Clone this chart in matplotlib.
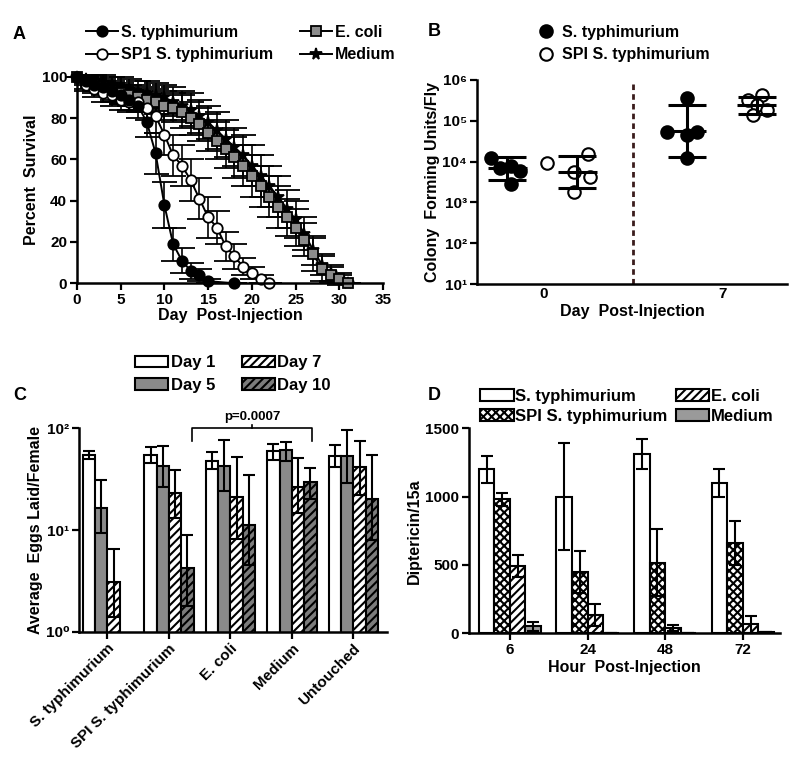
import numpy as np
import matplotlib
matplotlib.use("Agg")
import matplotlib.pyplot as plt
from matplotlib.patches import Patch
from matplotlib.lines import Line2D
from matplotlib.ticker import FixedLocator, NullLocator, FuncFormatter

plt.rcParams["font.family"] = ["Liberation Sans", "DejaVu Sans"]
plt.rcParams["font.weight"] = "bold"
plt.rcParams["axes.labelweight"] = "bold"
plt.rcParams["axes.linewidth"] = 1.8
plt.rcParams["hatch.linewidth"] = 1.5

# ---------------- panel A: survival curves ----------------
st_days = [0, 1, 2, 3, 4, 5, 6, 7, 8, 9, 10, 11, 12, 13, 14, 15, 18]
st_surv = [100, 98, 96, 95, 93, 91, 89, 86, 78, 63, 38, 19, 11, 6, 4, 1, 0]
st_err = [0, 2, 3, 3, 4, 4, 5, 6, 7, 10, 11, 8, 6, 4, 3, 1, 0]

sp_days = [0, 1, 2, 3, 4, 5, 6, 7, 8, 9, 10, 11, 12, 13, 14, 15, 16, 17, 18, 19, 20, 21, 22]
sp_surv = [100, 96, 94, 92, 91, 89, 88, 88, 85, 81, 72, 62, 57, 50, 41, 32, 27, 18, 13, 8, 5, 2, 0]
sp_err = [0, 3, 4, 4, 5, 5, 5, 5, 6, 8, 10, 10, 10, 10, 10, 10, 8, 7, 6, 4, 3, 2, 0]

ec_days = list(range(0, 32))
ec_surv = [100, 97, 96, 95, 93, 92, 91, 90, 89, 88, 86, 85, 83, 80, 77, 73,
           69, 65, 61, 57, 52, 47, 42, 37, 32, 27, 21, 14, 7, 4, 2, 0]
ec_err = [0, 3, 4, 4, 5, 5, 5, 6, 6, 6, 7, 7, 8, 8, 8, 9,
          9, 9, 10, 10, 10, 10, 10, 10, 9, 9, 8, 8, 6, 4, 3, 0]
md_days = list(range(0, 32))
md_surv = [100, 99, 98, 97, 96, 95, 94, 93, 92, 91, 90, 88, 86, 84, 81, 78,
           74, 70, 66, 62, 57, 52, 47, 42, 36, 31, 24, 16, 9, 5, 2, 0]
md_err = [0, 2, 3, 4, 4, 5, 5, 5, 6, 6, 6, 7, 7, 8, 8, 8,
          9, 9, 9, 10, 10, 10, 10, 10, 9, 9, 8, 7, 5, 4, 2, 0]

# ---------------- panel B: CFU per fly ----------------
b_days = ["0", "7"]
b_st0 = [1.2e4, 7e3, 8e3, 6e3, 2.8e3]
b_st0_jit = [-0.09, -0.04, 0.02, 0.07, 0.02]
b_sp0 = [9e3, 1.5e4, 5.6e3, 4.3e3, 1.8e3]
b_sp0_jit = [-0.17, 0.06, -0.02, 0.07, -0.02]
b_st7 = [3.7e5, 5.3e4, 4.5e4, 5.2e4, 1.2e4]
b_st7_jit = [0.0, -0.11, 0.0, 0.06, 0.0]
b_sp7 = [4.2e5, 3.2e5, 2.5e5, 1.8e5, 1.4e5]
b_sp7_jit = [0.03, -0.05, 0.0, 0.06, -0.02]
# mean, lower, upper
b_st_mean = [7e3, 5.6e4]
b_st_lo = [3.5e3, 1.26e4]
b_st_hi = [1.3e4, 2.4e5]
b_sp_mean = [5.6e3, 2.4e5]
b_sp_lo = [2.3e3, 1.5e5]
b_sp_hi = [1.4e4, 3.9e5]

# ---------------- panel C: eggs laid ----------------
c_groups = ["S. typhimurium", "SPI S. typhimurium", "E. coli", "Medium", "Untouched"]
c_day1 = [55, 55, 48, 60, 54]
c_day5 = [16.3, 43, 43, 61, 54]
c_day7 = [3.05, 23, 21, 26.5, 42]
c_day10 = [np.nan, 4.2, 11.2, 29.6, 20.4]
c_day1_lo = [50, 46, 40, 49, 42]
c_day5_lo = [9.3, 26.5, 24, 48, 29]
c_day7_lo = [1.4, 13, 8.1, 14.6, 22]
c_day10_lo = [np.nan, 1.8, 4.5, 20, 8]
c_day1_hi = [60, 65, 59, 70, 68]
c_day5_hi = [31, 67, 76, 73, 97]
c_day7_hi = [6.5, 39, 52, 51, 75]
c_day10_hi = [np.nan, 9, 35, 41, 55]

# ---------------- panel D: diptericin ----------------
d_hours = ["6", "24", "48", "72"]
d_st = [1200, 1000, 1310, 1100]
d_st_err = [100, 390, 110, 100]
d_spi = [980, 450, 515, 660]
d_spi_err = [50, 155, 245, 160]
d_ec = [490, 135, 38, 65]
d_ec_err = [82, 82, 22, 60]
d_md = [50, 4, 4, 9]
d_md_err = [35, 0, 0, 0]


def style(ax):
    for s in ("top", "right"):
        ax.spines[s].set_visible(False)
    ax.tick_params(direction="out", length=5, width=1.6, labelsize=11, pad=2)


sup = str.maketrans("0123456789", "⁰¹²³⁴⁵⁶⁷⁸⁹")


def log_fmt(v, pos):
    return "10" + str(int(round(np.log10(v)))).translate(sup)


fig = plt.figure(figsize=(8, 7.76), dpi=100)

# ---------- A ----------
axA = fig.add_axes([0.096, 0.635, 0.383, 0.266])
style(axA)
ms = 7.5
kw_st = dict(marker="o", mfc="black", mec="black", ms=ms)
kw_sp = dict(marker="o", mfc="white", mec="black", ms=ms)
kw_ec = dict(marker="s", mfc="#8c8c8c", mec="black", ms=ms)
kw_md = dict(marker="*", mfc="black", mec="black", ms=8.5)
for d, v, e, kw in [(md_days, md_surv, md_err, kw_md), (ec_days, ec_surv, ec_err, kw_ec),
                    (sp_days, sp_surv, sp_err, kw_sp), (st_days, st_surv, st_err, kw_st)]:
    axA.errorbar(d, v, yerr=e, color="black", lw=1.4, elinewidth=1.2,
                 capsize=9, capthick=1.2, mew=1.3, clip_on=False, **kw)
axA.set_xlim(0, 35)
axA.set_ylim(0, 100)
axA.set_xticks(range(0, 36, 5))
axA.set_yticks(range(0, 101, 20))
axA.set_xlabel("Day  Post-Injection", fontsize=11.5, labelpad=1)
axA.set_ylabel("Percent  Survival", fontsize=11.5, labelpad=2)
hA = [Line2D([], [], color="black", lw=1.4, mew=1.3, **kw) for kw in (kw_st, kw_sp, kw_ec, kw_md)]
fig.legend(hA, ["S. typhimurium", "SP1 S. typhimurium", "E. coli", "Medium"],
           loc="upper left", bbox_to_anchor=(0.097, 0.978), ncol=2, frameon=False,
           fontsize=11.5, handlelength=2.0, handletextpad=0.2, columnspacing=1.7,
           labelspacing=0.45, borderpad=0)

# ---------- B ----------
axB = fig.add_axes([0.596, 0.634, 0.388, 0.263])
style(axB)
axB.set_yscale("log")
axB.set_ylim(10, 1e6)
axB.set_xlim(-0.37, 1.36)
for i, (vals, jit, filled) in enumerate([(b_st0, b_st0_jit, True), (b_sp0, b_sp0_jit, False),
                                         (b_st7, b_st7_jit, True), (b_sp7, b_sp7_jit, False)]):
    g = i // 2
    off = -0.2 if filled else 0.19
    x = g + off + np.array(jit)
    axB.plot(x, vals, "o", ms=9, mfc="black" if filled else "white", mec="black", mew=1.5,
             zorder=3)
for g in range(2):
    for off, mean, lo, hi in [(-0.2, b_st_mean[g], b_st_lo[g], b_st_hi[g]),
                              (0.19, b_sp_mean[g], b_sp_lo[g], b_sp_hi[g])]:
        axB.hlines(mean, g + off - 0.11, g + off + 0.11, color="black", lw=2.2, zorder=4)
        axB.errorbar([g + off], [mean], yerr=[[mean - lo], [hi - mean]], fmt="none",
                     ecolor="black", elinewidth=2.2, capsize=14, capthick=2.2, zorder=4)
axB.axvline(0.5, color="#3a1c1c", lw=2, ls=(0, (2, 1.5)))
axB.set_xticks([0, 1])
axB.set_xticklabels(b_days)
axB.yaxis.set_major_locator(FixedLocator([1e1, 1e2, 1e3, 1e4, 1e5, 1e6]))
axB.yaxis.set_minor_locator(NullLocator())
axB.yaxis.set_major_formatter(FuncFormatter(log_fmt))
axB.tick_params(axis="x", length=0)
axB.set_xlabel("Day  Post-Injection", fontsize=11.5, labelpad=2)
axB.set_ylabel("Colony  Forming Units/Fly", fontsize=11.5, labelpad=2)
hB = [Line2D([], [], ls="none", marker="o", ms=9, mfc=c, mec="black", mew=1.5)
      for c in ("black", "white")]
fig.legend(hB, ["S. typhimurium", "SPI S. typhimurium"], loc="upper left",
           bbox_to_anchor=(0.665, 0.978), frameon=False, fontsize=11.5,
           handlelength=0.8, handletextpad=0.6, labelspacing=0.45, borderpad=0)

# ---------- C ----------
axC = fig.add_axes([0.099, 0.186, 0.385, 0.262])
style(axC)
axC.set_yscale("log")
w = 0.2
xc = np.arange(len(c_groups))
c_series = [
    (c_day1, c_day1_lo, c_day1_hi, dict(color="white", hatch=None)),
    (c_day5, c_day5_lo, c_day5_hi, dict(color="#8a8a8a", hatch=None)),
    (c_day7, c_day7_lo, c_day7_hi, dict(color="white", hatch="////")),
    (c_day10, c_day10_lo, c_day10_hi, dict(color="#7c7c7c", hatch="////")),
]
for k, (m, lo, hi, kw) in enumerate(c_series):
    pos = xc + (k - 1.5) * w
    m = np.array(m, float)
    axC.bar(pos, m, width=w, color=kw["color"], hatch=kw["hatch"], edgecolor="black",
            lw=1.5, zorder=2)
    axC.errorbar(pos, m, yerr=[m - np.array(lo, float), np.array(hi, float) - m], fmt="none",
                 ecolor="black", elinewidth=1.5, capsize=4, capthick=1.5, zorder=3)
axC.set_ylim(1, 100)
axC.set_xlim(-0.46, 4.55)
axC.yaxis.set_major_locator(FixedLocator([1, 10, 100]))
axC.yaxis.set_minor_locator(NullLocator())
axC.yaxis.set_major_formatter(FuncFormatter(log_fmt))
axC.set_xticks(xc)
axC.set_xticklabels(c_groups, rotation=45, ha="right", rotation_mode="anchor", fontsize=11)
axC.set_ylabel("Average  Eggs Laid/Female", fontsize=11.5, labelpad=2)
# significance bracket between E. coli and Medium groups
axC.plot([1.37, 1.37, 3.33, 3.33], [75, 100, 100, 75], color="black", lw=1.2, clip_on=False)
axC.plot([2.35, 2.35], [100, 108], color="black", lw=1.2, clip_on=False)
axC.text(2.35, 113, "p=0.0007", ha="center", va="bottom", fontsize=9.5)
hC = [Patch(facecolor=kw["color"], hatch=kw["hatch"], edgecolor="black", lw=1.5)
      for *_, kw in c_series]
fig.legend(hC, ["Day 1", "Day 5", "Day 7", "Day 10"], loc="upper left",
           bbox_to_anchor=(0.158, 0.553), ncol=2, frameon=False, fontsize=12,
           handlelength=2.0, handleheight=0.7, handletextpad=0.15, columnspacing=1.6,
           labelspacing=0.45, borderpad=0)

# ---------- D ----------
axD = fig.add_axes([0.586, 0.184, 0.389, 0.264])
style(axD)
xd = np.arange(len(d_hours))
d_series = [
    (d_st, d_st_err, dict(color="white", hatch=None)),
    (d_spi, d_spi_err, dict(color="white", hatch="xxxx")),
    (d_ec, d_ec_err, dict(color="white", hatch="////")),
    (d_md, d_md_err, dict(color="#9a9a9a", hatch=None)),
]
for k, (m, e, kw) in enumerate(d_series):
    pos = xd + (k - 1.5) * w
    axD.bar(pos, m, width=w, color=kw["color"], hatch=kw["hatch"], edgecolor="black",
            lw=1.5, zorder=2)
    axD.errorbar(pos, m, yerr=e, fmt="none", ecolor="black", elinewidth=1.5,
                 capsize=4, capthick=1.5, zorder=3)
axD.set_ylim(0, 1500)
axD.set_xlim(-0.53, 3.48)
axD.set_yticks([0, 500, 1000, 1500])
axD.set_xticks(xd)
axD.set_xticklabels(d_hours)
axD.set_xlabel("Hour  Post-Injection", fontsize=11.5, labelpad=2)
axD.set_ylabel("Diptericin/15a", fontsize=11.5, labelpad=2)
hD = [Patch(facecolor=kw["color"], hatch=kw["hatch"], edgecolor="black", lw=1.5)
      for *_, kw in d_series]
fig.legend(hD, ["S. typhimurium", "SPI S. typhimurium", "E. coli", "Medium"],
           loc="upper left", bbox_to_anchor=(0.59, 0.51), ncol=2, frameon=False,
           fontsize=12, handlelength=2.0, handleheight=0.7, handletextpad=0.1,
           columnspacing=0.5, labelspacing=0.3, borderpad=0)

# panel letters
for lbl, x, y in [("A", 0.016, 0.955), ("B", 0.535, 0.96), ("C", 0.016, 0.49), ("D", 0.535, 0.49)]:
    fig.text(x, y, lbl, fontsize=13, ha="left", va="center")

fig.savefig("out.png", dpi=100)
